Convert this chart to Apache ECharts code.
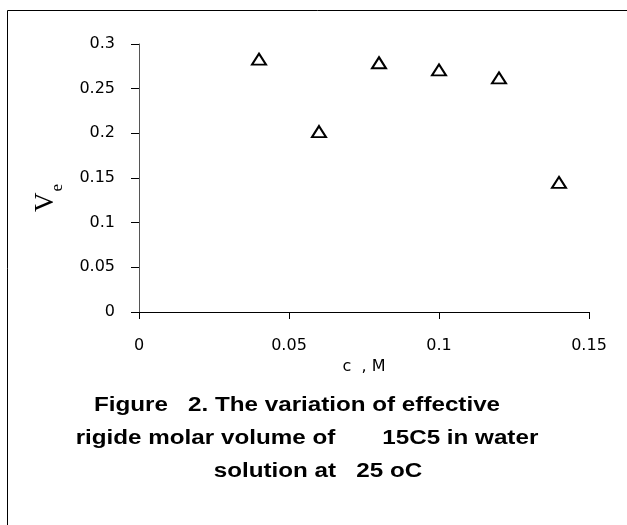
<!DOCTYPE html>
<html>
<head>
<meta charset="utf-8">
<script src="https://cdn.jsdelivr.net/npm/echarts@6/dist/echarts.min.js"></script>
<style>
  html, body { margin: 0; padding: 0; background: #fff; }
  #chart { width: 627px; height: 525px; }
</style>
</head>
<body>
<div id="chart"></div>
<script>
// concentration c (M) and effective rigid molar volume Ve
const concentrations = [0.04, 0.06, 0.08, 0.10, 0.12, 0.14];
const veValues = [0.283, 0.202, 0.279, 0.271, 0.262, 0.145];
const captionLines = [
	'Figure   2. The variation of effective',
	'rigide molar volume of       15C5 in water',
	'solution at   25 oC',
];

const chart = echarts.init(document.getElementById('chart'));

const points = concentrations.map((c, i) => [c, veValues[i]]);

// caption text is drawn a bit wider than normal, like in the original figure
const captionFont = 'bold 20px "Liberation Sans", Arial, sans-serif';
const captionX = [297, 307, 318];
const captionY = [405, 438, 471];

const option = {
	backgroundColor: '#fff',
	animation: false,
	textStyle: { fontFamily: 'DejaVu Sans, sans-serif' },
	grid: {
		left: 139,
		top: 44,
		right: 38,
		bottom: 213,
	},
	xAxis: {
		type: 'value',
		min: 0,
		max: 0.15,
		interval: 0.05,
		name: 'c  , M',
		nameLocation: 'middle',
		nameGap: 38,
		nameTextStyle: { color: '#000', fontSize: 16, fontFamily: 'DejaVu Sans, sans-serif' },
		axisLine: { show: true, onZero: false, lineStyle: { color: '#000', width: 1 } },
		axisTick: { show: true, length: 7, lineStyle: { color: '#000' } },
		axisLabel: { color: '#000', fontSize: 16, margin: 26, fontFamily: 'DejaVu Sans, sans-serif' },
		splitLine: { show: false },
	},
	yAxis: {
		type: 'value',
		min: 0,
		max: 0.3,
		interval: 0.05,
		name: '{v|V}{e|e}',
		nameLocation: 'middle',
		nameRotate: 90,
		nameGap: 80,
		nameTextStyle: {
			padding: [0, 40, 0, 0],
			rich: {
				v: { fontFamily: 'Liberation Serif, Times New Roman, serif', fontSize: 27, color: '#000', verticalAlign: 'bottom' },
				e: { fontFamily: 'Liberation Serif, Times New Roman, serif', fontSize: 17, color: '#000', verticalAlign: 'bottom', padding: [0, 0, -7, 1] },
			},
		},
		axisLine: { show: true, onZero: false, lineStyle: { color: '#555', width: 1 } },
		axisTick: { show: true, length: 8, lineStyle: { color: '#000' } },
		axisLabel: { color: '#000', fontSize: 16, margin: 24, fontFamily: 'DejaVu Sans, sans-serif' },
		splitLine: { show: false },
	},
	graphic: [
		{
			type: 'rect',
			z: -10,
			shape: { x: 7.5, y: 10.5, width: 700, height: 600 },
			style: { fill: 'none', stroke: '#000', lineWidth: 1 },
		},
	].concat(captionLines.map((line, i) => ({
		type: 'text',
		x: captionX[i],
		y: captionY[i],
		scaleX: 1.21,
		style: { text: line, align: 'center', verticalAlign: 'middle', font: captionFont, fill: '#000' },
	}))),
	series: [
		{
			type: 'scatter',
			data: points,
			symbol: 'triangle',
			symbolSize: [14, 11],
			itemStyle: {
				color: '#fff',
				borderColor: '#000',
				borderWidth: 2,
				opacity: 1,
			},
		},
	],
};

chart.setOption(option);
</script>
</body>
</html>
